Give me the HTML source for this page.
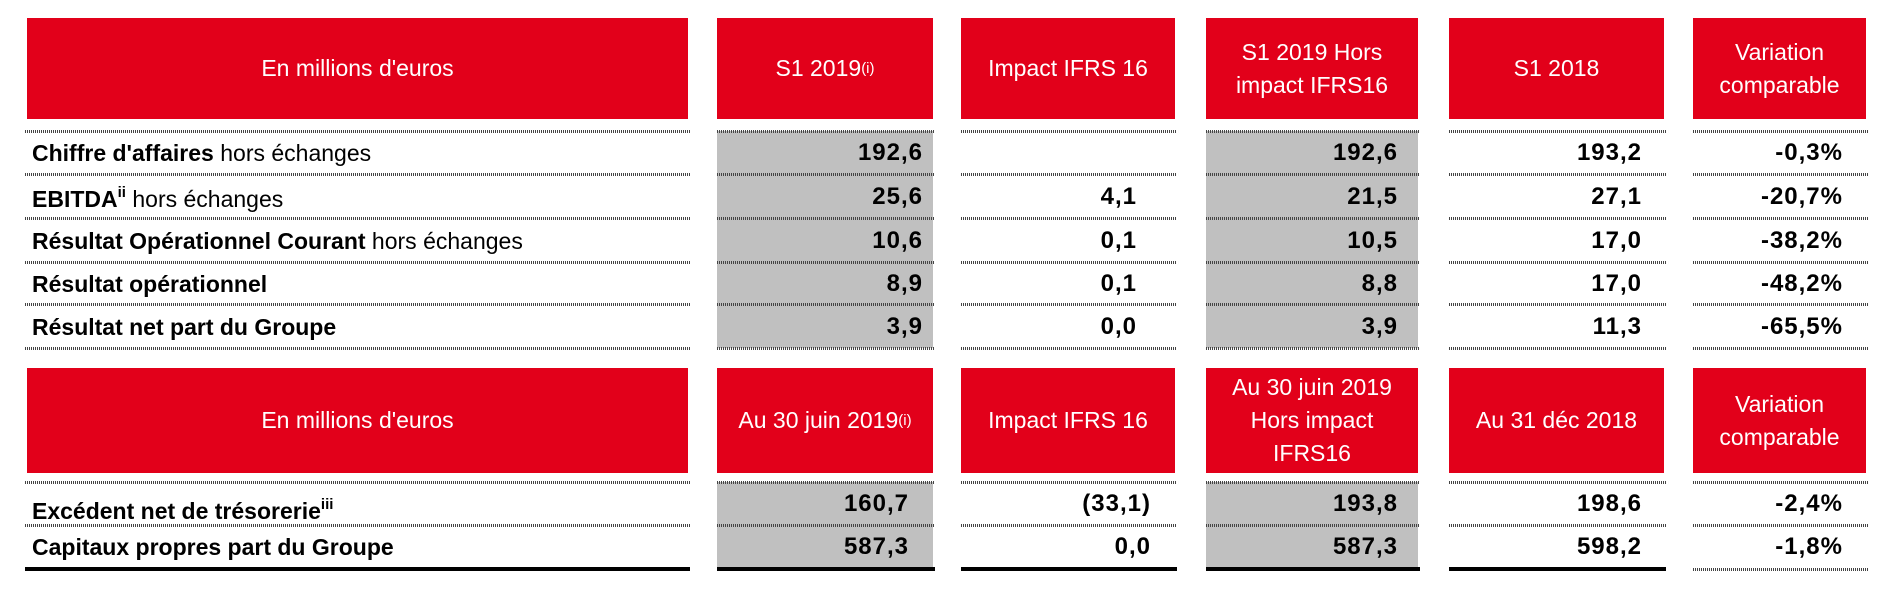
<!DOCTYPE html>
<html><head><meta charset="utf-8"><style>
body{margin:0;width:1900px;height:600px;background:#fff;position:relative;overflow:hidden;font-family:"Liberation Sans",sans-serif;}
.h{position:absolute;background:#e2001a;color:#fff;font-size:23px;display:flex;align-items:center;justify-content:center;text-align:center;line-height:33px;}
.g{position:absolute;background:#c0c0c0;}
.d{position:absolute;height:3px;background:repeating-linear-gradient(90deg,#444 0 1px,transparent 1px 2px);}
.k{position:absolute;height:4px;background:#000;}
.t{position:absolute;font-size:23px;color:#000;display:flex;align-items:center;white-space:nowrap;}
.n{justify-content:flex-end;font-weight:bold;font-size:24px;letter-spacing:1px;}
sup{font-size:15px;line-height:0;vertical-align:10px;}
</style></head><body>
<div class="h" style="left:27px;top:18px;width:661px;height:101px">En millions d'euros</div>
<div class="h" style="left:717px;top:18px;width:216px;height:101px">S1 2019<sup>(i)</sup></div>
<div class="h" style="left:961px;top:18px;width:214px;height:101px">Impact IFRS 16</div>
<div class="h" style="left:1206px;top:18px;width:212px;height:101px">S1 2019 Hors<br>impact IFRS16</div>
<div class="h" style="left:1449px;top:18px;width:215px;height:101px">S1 2018</div>
<div class="h" style="left:1693px;top:18px;width:173px;height:101px">Variation<br>comparable</div>
<div class="g" style="left:717px;top:131px;width:216px;height:217px"></div>
<div class="g" style="left:1206px;top:131px;width:212px;height:217px"></div>
<div class="d" style="left:25px;top:130px;width:665px"></div><div class="d" style="left:717px;top:130px;width:218px"></div><div class="d" style="left:961px;top:130px;width:216px"></div><div class="d" style="left:1206px;top:130px;width:214px"></div><div class="d" style="left:1449px;top:130px;width:217px"></div><div class="d" style="left:1693px;top:130px;width:175px"></div>
<div class="d" style="left:25px;top:173px;width:665px"></div><div class="d" style="left:717px;top:173px;width:218px"></div><div class="d" style="left:961px;top:173px;width:216px"></div><div class="d" style="left:1206px;top:173px;width:214px"></div><div class="d" style="left:1449px;top:173px;width:217px"></div><div class="d" style="left:1693px;top:173px;width:175px"></div>
<div class="d" style="left:25px;top:217px;width:665px"></div><div class="d" style="left:717px;top:217px;width:218px"></div><div class="d" style="left:961px;top:217px;width:216px"></div><div class="d" style="left:1206px;top:217px;width:214px"></div><div class="d" style="left:1449px;top:217px;width:217px"></div><div class="d" style="left:1693px;top:217px;width:175px"></div>
<div class="d" style="left:25px;top:261px;width:665px"></div><div class="d" style="left:717px;top:261px;width:218px"></div><div class="d" style="left:961px;top:261px;width:216px"></div><div class="d" style="left:1206px;top:261px;width:214px"></div><div class="d" style="left:1449px;top:261px;width:217px"></div><div class="d" style="left:1693px;top:261px;width:175px"></div>
<div class="d" style="left:25px;top:303px;width:665px"></div><div class="d" style="left:717px;top:303px;width:218px"></div><div class="d" style="left:961px;top:303px;width:216px"></div><div class="d" style="left:1206px;top:303px;width:214px"></div><div class="d" style="left:1449px;top:303px;width:217px"></div><div class="d" style="left:1693px;top:303px;width:175px"></div>
<div class="d" style="left:25px;top:347px;width:665px"></div><div class="d" style="left:717px;top:347px;width:218px"></div><div class="d" style="left:961px;top:347px;width:216px"></div><div class="d" style="left:1206px;top:347px;width:214px"></div><div class="d" style="left:1449px;top:347px;width:217px"></div><div class="d" style="left:1693px;top:347px;width:175px"></div>
<div class="t" style="left:32px;top:133px;height:40px"><b>Chiffre d'affaires</b>&nbsp;hors échanges</div>
<div class="t" style="left:32px;top:178px;height:42px"><b>EBITDA<sup>ii</sup></b>&nbsp;hors échanges</div>
<div class="t" style="left:32px;top:220px;height:42px"><b>Résultat Opérationnel Courant</b>&nbsp;hors échanges</div>
<div class="t" style="left:32px;top:264px;height:40px"><b>Résultat opérationnel</b></div>
<div class="t" style="left:32px;top:306px;height:42px"><b>Résultat net part du Groupe</b></div>

<div class="t n" style="left:717px;width:206px;top:133px;height:40px">192,6</div>
<div class="t n" style="left:717px;width:206px;top:176px;height:42px">25,6</div>
<div class="t n" style="left:717px;width:206px;top:220px;height:42px">10,6</div>
<div class="t n" style="left:717px;width:206px;top:264px;height:40px">8,9</div>
<div class="t n" style="left:717px;width:206px;top:306px;height:42px">3,9</div>

<div class="t n" style="left:961px;width:176px;top:176px;height:42px">4,1</div>
<div class="t n" style="left:961px;width:176px;top:220px;height:42px">0,1</div>
<div class="t n" style="left:961px;width:176px;top:264px;height:40px">0,1</div>
<div class="t n" style="left:961px;width:176px;top:306px;height:42px">0,0</div>

<div class="t n" style="left:1206px;width:192px;top:133px;height:40px">192,6</div>
<div class="t n" style="left:1206px;width:192px;top:176px;height:42px">21,5</div>
<div class="t n" style="left:1206px;width:192px;top:220px;height:42px">10,5</div>
<div class="t n" style="left:1206px;width:192px;top:264px;height:40px">8,8</div>
<div class="t n" style="left:1206px;width:192px;top:306px;height:42px">3,9</div>

<div class="t n" style="left:1449px;width:193px;top:133px;height:40px">193,2</div>
<div class="t n" style="left:1449px;width:193px;top:176px;height:42px">27,1</div>
<div class="t n" style="left:1449px;width:193px;top:220px;height:42px">17,0</div>
<div class="t n" style="left:1449px;width:193px;top:264px;height:40px">17,0</div>
<div class="t n" style="left:1449px;width:193px;top:306px;height:42px">11,3</div>

<div class="t n" style="left:1693px;width:150px;top:133px;height:40px">-0,3%</div>
<div class="t n" style="left:1693px;width:150px;top:176px;height:42px">-20,7%</div>
<div class="t n" style="left:1693px;width:150px;top:220px;height:42px">-38,2%</div>
<div class="t n" style="left:1693px;width:150px;top:264px;height:40px">-48,2%</div>
<div class="t n" style="left:1693px;width:150px;top:306px;height:42px">-65,5%</div>

<div class="h" style="left:27px;top:368px;width:661px;height:105px">En millions d'euros</div>
<div class="h" style="left:717px;top:368px;width:216px;height:105px">Au 30 juin 2019<sup>(i)</sup></div>
<div class="h" style="left:961px;top:368px;width:214px;height:105px">Impact IFRS 16</div>
<div class="h" style="left:1206px;top:368px;width:212px;height:105px">Au 30 juin 2019<br>Hors impact<br>IFRS16</div>
<div class="h" style="left:1449px;top:368px;width:215px;height:105px">Au 31 déc 2018</div>
<div class="h" style="left:1693px;top:368px;width:173px;height:105px">Variation<br>comparable</div>
<div class="g" style="left:717px;top:482px;width:216px;height:86px"></div>
<div class="g" style="left:1206px;top:482px;width:212px;height:86px"></div>
<div class="d" style="left:25px;top:481px;width:665px"></div><div class="d" style="left:717px;top:481px;width:218px"></div><div class="d" style="left:961px;top:481px;width:216px"></div><div class="d" style="left:1206px;top:481px;width:214px"></div><div class="d" style="left:1449px;top:481px;width:217px"></div><div class="d" style="left:1693px;top:481px;width:175px"></div>
<div class="d" style="left:25px;top:524px;width:665px"></div><div class="d" style="left:717px;top:524px;width:218px"></div><div class="d" style="left:961px;top:524px;width:216px"></div><div class="d" style="left:1206px;top:524px;width:214px"></div><div class="d" style="left:1449px;top:524px;width:217px"></div><div class="d" style="left:1693px;top:524px;width:175px"></div>
<div class="k" style="left:25px;top:567px;width:665px"></div><div class="k" style="left:717px;top:567px;width:218px"></div><div class="k" style="left:961px;top:567px;width:216px"></div><div class="k" style="left:1206px;top:567px;width:214px"></div><div class="k" style="left:1449px;top:567px;width:217px"></div><div class="d" style="left:1693px;top:568px;width:175px"></div>

<div class="t" style="left:32px;top:490px;height:42px"><b>Excédent net de trésorerie<sup>iii</sup></b></div>
<div class="t" style="left:32px;top:527px;height:40px"><b>Capitaux propres part du Groupe</b></div>
<div class="t n" style="left:717px;width:192px;top:484px;height:40px">160,7</div>
<div class="t n" style="left:717px;width:192px;top:527px;height:40px">587,3</div>
<div class="t n" style="left:961px;width:190px;top:484px;height:40px">(33,1)</div>
<div class="t n" style="left:961px;width:190px;top:527px;height:40px">0,0</div>
<div class="t n" style="left:1206px;width:192px;top:484px;height:40px">193,8</div>
<div class="t n" style="left:1206px;width:192px;top:527px;height:40px">587,3</div>
<div class="t n" style="left:1449px;width:193px;top:484px;height:40px">198,6</div>
<div class="t n" style="left:1449px;width:193px;top:527px;height:40px">598,2</div>
<div class="t n" style="left:1693px;width:150px;top:484px;height:40px">-2,4%</div>
<div class="t n" style="left:1693px;width:150px;top:527px;height:40px">-1,8%</div>
</body></html>
